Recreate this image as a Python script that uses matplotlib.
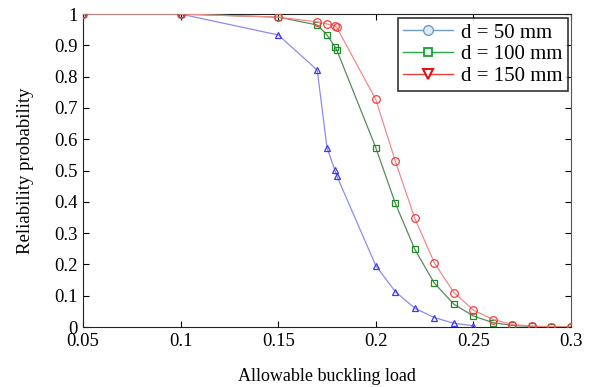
import matplotlib.pyplot as plt
from matplotlib.lines import Line2D
from matplotlib.ticker import FuncFormatter

plt.rcParams['font.family'] = ['Liberation Serif', 'DejaVu Serif']

# allowable buckling load values
load = [0.05, 0.1, 0.15, 0.17, 0.175, 0.179, 0.18, 0.2, 0.21, 0.22, 0.23,
        0.24, 0.25, 0.26, 0.27, 0.28, 0.29, 0.3]

# d = 50 mm curve (drawn with triangles in the original)
load_50 = load[:13]
rel_50 = [1.0, 1.0, 0.933, 0.821, 0.573, 0.502, 0.483, 0.196, 0.113, 0.060,
          0.030, 0.012, 0.004]

# d = 100 mm curve
rel_100 = [1.0, 1.0, 0.99, 0.965, 0.933, 0.896, 0.885, 0.573, 0.395, 0.248,
           0.140, 0.073, 0.035, 0.014, 0.005, 0.002, 0.0, 0.0]

# d = 150 mm curve (drawn with circles in the original)
rel_150 = [1.0, 1.0, 0.99, 0.975, 0.968, 0.962, 0.957, 0.727, 0.530, 0.347,
           0.205, 0.110, 0.054, 0.024, 0.008, 0.003, 0.001, 0.0]

legend_labels = ['d = 50 mm', 'd = 100 mm', 'd = 150 mm']

fig = plt.figure(figsize=(5.94, 3.87), dpi=100)
ax = fig.add_axes([0.1397, 0.155, 0.8216, 0.8088])

ax.plot(load_50, rel_50, color='#8c8cf0', lw=0.9, marker='^', ms=5,
        mfc='none', mec='#3a3af0', mew=0.9, zorder=3)
ax.plot(load, rel_100, color='#5a8a5a', lw=0.9, marker='s', ms=4.5,
        mfc='none', mec='#1f8a2a', mew=0.9, zorder=3)
ax.plot(load, rel_150, color='#f08a8a', lw=0.9, marker='o', ms=5.5,
        mfc='none', mec='#f04040', mew=0.9, zorder=3)

ax.set_xlim(0.05, 0.3)
ax.set_ylim(0, 1)
ax.set_xticks([0.05, 0.1, 0.15, 0.2, 0.25, 0.3])
ax.set_yticks([i / 10 for i in range(11)])
ax.xaxis.set_major_formatter(FuncFormatter(lambda v, p: '%g' % round(v, 3)))
ax.yaxis.set_major_formatter(FuncFormatter(lambda v, p: '%g' % round(v, 2)))
ax.tick_params(direction='in', top=True, right=True, length=4, width=0.8,
               labelsize=13.5, pad=4)
for side in ['left', 'bottom', 'top']:
    ax.spines[side].set_color('#222222')
ax.spines['right'].set_color('#555555')

ax.set_xlabel('Allowable buckling load', fontsize=13, labelpad=13)
ax.set_ylabel('Reliability probability', fontsize=13.5, labelpad=14)

handles = [
    Line2D([], [], color='#6f9ac8', lw=1, marker='o', ms=7, mfc='#dfeaf6',
           mec='#6f9ac8'),
    Line2D([], [], color='#2aa84a', lw=1, marker='s', ms=6, mfc='#e6f5e8',
           mec='#14a03a', mew=1.3),
    Line2D([], [], color='#e84040', lw=1, marker='v', ms=7, mfc='white',
           mec='#e81010', mew=1.5),
]
leg = ax.legend(handles, legend_labels, loc='upper right', fontsize=15,
                frameon=True, fancybox=False, edgecolor='black',
                borderpad=0.25, labelspacing=0.1, handlelength=2.4,
                handletextpad=0.4, borderaxespad=0,
                bbox_to_anchor=(0.994, 0.988))
leg.get_frame().set_linewidth(1.2)

fig.savefig('out.png', dpi=100)
